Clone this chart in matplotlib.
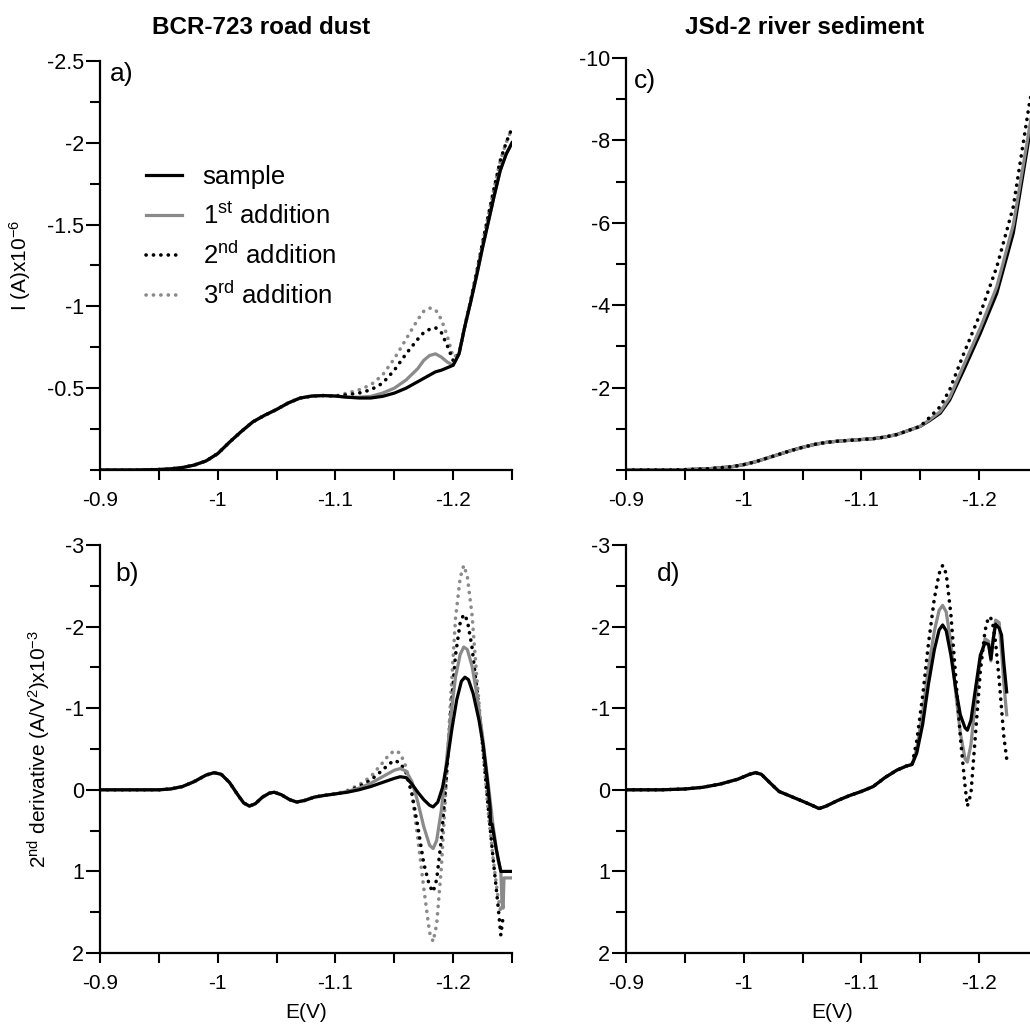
import matplotlib
matplotlib.use("Agg")
import matplotlib.pyplot as plt
from matplotlib.ticker import MultipleLocator

plt.rcParams['font.family'] = ['Liberation Sans', 'DejaVu Sans']
plt.rcParams['mathtext.default'] = 'regular'
plt.rcParams['axes.unicode_minus'] = False

# ---------------- Panel a: BCR-723 current (x10^-6 A) ----------------
E_a_common = [-0.900, -0.930, -0.950, -0.960, -0.970, -0.980, -0.990, -1.000, -1.010, -1.020,
              -1.030, -1.040, -1.050, -1.060, -1.070, -1.080, -1.090, -1.100]
I_a_common = [0.0, 0.0, -0.003, -0.007, -0.015, -0.03, -0.055, -0.10, -0.17, -0.235,
              -0.295, -0.335, -0.37, -0.41, -0.44, -0.452, -0.455, -0.452]

E_a_tail = [-1.110, -1.120, -1.130, -1.140, -1.150, -1.160, -1.170, -1.175, -1.180, -1.185,
            -1.190, -1.195, -1.200, -1.205, -1.210, -1.215, -1.220, -1.225, -1.230, -1.235,
            -1.240, -1.245, -1.250]
I_a_sample = [-0.445, -0.44, -0.44, -0.45, -0.47, -0.50, -0.54, -0.56, -0.58, -0.60,
              -0.61, -0.625, -0.64, -0.71, -0.88, -1.03, -1.19, -1.36, -1.52, -1.68,
              -1.83, -1.93, -2.00]
I_a_add1 = [-0.445, -0.445, -0.45, -0.47, -0.50, -0.55, -0.62, -0.67, -0.70, -0.71,
            -0.69, -0.66, -0.64, -0.71, -0.88, -1.03, -1.19, -1.36, -1.52, -1.68,
            -1.83, -1.93, -2.00]
I_a_add2 = [-0.46, -0.47, -0.49, -0.53, -0.61, -0.71, -0.80, -0.84, -0.86, -0.87,
            -0.84, -0.76, -0.67, -0.71, -0.88, -1.04, -1.21, -1.39, -1.56, -1.73,
            -1.89, -2.00, -2.09]
I_a_add3 = [-0.47, -0.49, -0.52, -0.58, -0.68, -0.80, -0.92, -0.97, -0.99, -0.98,
            -0.92, -0.82, -0.69, -0.71, -0.88, -1.04, -1.21, -1.39, -1.56, -1.73,
            -1.89, -2.00, -2.09]

# ---------------- Panel b: BCR-723 2nd derivative (x10^-3) ----------------
E_b_common = [-0.900, -0.930, -0.950, -0.960, -0.970, -0.980, -0.990, -0.997, -1.003, -1.010,
              -1.017, -1.022, -1.027, -1.032, -1.038, -1.044, -1.048, -1.054, -1.061, -1.067,
              -1.074, -1.082, -1.090, -1.100]
D_b_common = [0.0, 0.0, 0.0, -0.01, -0.04, -0.10, -0.18, -0.21, -0.19, -0.09,
              0.06, 0.16, 0.20, 0.17, 0.09, 0.04, 0.03, 0.06, 0.12, 0.15,
              0.13, 0.09, 0.07, 0.05]

E_b_sample = [-1.110, -1.120, -1.130, -1.140, -1.150, -1.155, -1.160, -1.165, -1.170, -1.175,
              -1.180, -1.183, -1.187, -1.191, -1.195, -1.199, -1.203, -1.207, -1.210, -1.213,
              -1.217, -1.222, -1.2255, -1.229, -1.2314, -1.2318, -1.233, -1.2365, -1.2405, -1.250]
D_b_sample = [0.03, 0.0, -0.04, -0.09, -0.14, -0.16, -0.15, -0.07, 0.03, 0.12,
              0.19, 0.21, 0.15, -0.03, -0.35, -0.75, -1.10, -1.33, -1.38, -1.35,
              -1.18, -0.85, -0.55, -0.12, 0.22, 0.42, 0.42, 0.72, 1.0, 1.0]

E_b_add1 = [-1.110, -1.120, -1.130, -1.140, -1.150, -1.155, -1.160, -1.165, -1.170, -1.175,
            -1.180, -1.183, -1.186, -1.190, -1.194, -1.198, -1.202, -1.206, -1.209, -1.212,
            -1.216, -1.220, -1.225, -1.230, -1.234, -1.238, -1.2405, -1.2415, -1.2425, -1.2432,
            -1.250]
D_b_add1 = [0.02, -0.02, -0.08, -0.16, -0.24, -0.26, -0.23, -0.10, 0.15, 0.45,
            0.68, 0.72, 0.62, 0.25, -0.30, -0.90, -1.38, -1.66, -1.75, -1.72,
            -1.52, -1.18, -0.65, -0.05, 0.45, 0.85, 1.0, 1.38, 1.45, 1.08,
            1.08]

E_b_dots = [-1.110, -1.120, -1.130, -1.140, -1.145, -1.150, -1.155, -1.160, -1.165, -1.170,
            -1.175, -1.180, -1.183, -1.186, -1.190, -1.194, -1.198, -1.202, -1.206, -1.209,
            -1.212, -1.216, -1.220, -1.225, -1.230, -1.234, -1.238, -1.2405, -1.2425]
D_b_add2 = [0.02, -0.04, -0.12, -0.24, -0.31, -0.36, -0.33, -0.21, 0.05, 0.45,
            0.90, 1.18, 1.25, 1.10, 0.60, -0.10, -0.95, -1.65, -2.05, -2.15,
            -2.08, -1.75, -1.25, -0.55, 0.25, 0.85, 1.40, 1.78, 1.55]
D_b_add3 = [0.01, -0.06, -0.16, -0.33, -0.42, -0.48, -0.45, -0.28, 0.05, 0.60,
            1.20, 1.75, 1.86, 1.65, 0.95, -0.05, -1.15, -2.10, -2.60, -2.75,
            -2.62, -2.15, -1.40, -0.55, 0.30, 0.85, 1.30, 1.50, 1.25]

# ---------------- Panel c: JSd-2 current (x10^-6 A) ----------------
E_c_common = [-0.900, -0.940, -0.970, -0.990, -1.000, -1.010, -1.020, -1.030, -1.040, -1.050,
              -1.060, -1.070, -1.080, -1.090, -1.100, -1.110, -1.120, -1.130, -1.140, -1.150]
I_c_common = [0.0, 0.0, -0.03, -0.08, -0.13, -0.20, -0.29, -0.38, -0.47, -0.55,
              -0.62, -0.67, -0.70, -0.72, -0.74, -0.76, -0.80, -0.86, -0.96, -1.06]
E_c_tail = [-1.158, -1.167, -1.175, -1.187, -1.201, -1.215, -1.229, -1.243, -1.250]
I_c_sample = [-1.20, -1.38, -1.70, -2.43, -3.32, -4.29, -5.75, -8.17, -9.30]
I_c_add1 = [-1.22, -1.42, -1.76, -2.55, -3.45, -4.45, -5.95, -8.35, -9.45]
I_c_add2 = [-1.28, -1.54, -1.95, -2.83, -3.80, -4.93, -6.39, -8.95, -9.90]

# ---------------- Panel d: JSd-2 2nd derivative (x10^-3) ----------------
E_d_common = [-0.900, -0.930, -0.950, -0.965, -0.980, -0.995, -1.005, -1.010, -1.015, -1.022,
              -1.030, -1.040, -1.050, -1.058, -1.064, -1.070, -1.080, -1.090, -1.100, -1.110,
              -1.120, -1.130, -1.138, -1.143]
D_d_common = [0.0, 0.0, -0.01, -0.03, -0.07, -0.13, -0.19, -0.21, -0.19, -0.09,
              0.02, 0.08, 0.14, 0.19, 0.23, 0.20, 0.13, 0.07, 0.02, -0.04,
              -0.15, -0.24, -0.29, -0.31]
E_d_tail = [-1.147, -1.152, -1.157, -1.162, -1.166, -1.169, -1.172, -1.176, -1.180, -1.184,
            -1.188, -1.190, -1.193, -1.197, -1.201, -1.205, -1.208, -1.210, -1.212, -1.214,
            -1.217, -1.219, -1.221, -1.2234]
D_d_sample = [-0.45, -0.80, -1.30, -1.72, -1.96, -2.02, -1.95, -1.65, -1.25, -0.92,
              -0.76, -0.73, -0.85, -1.25, -1.65, -1.80, -1.78, -1.60, -1.85, -2.03,
              -1.98, -1.90, -1.55, -1.20]
D_d_add1 = [-0.50, -0.95, -1.50, -1.95, -2.20, -2.26, -2.18, -1.80, -1.20, -0.70,
            -0.38, -0.34, -0.55, -1.10, -1.60, -1.85, -1.82, -1.58, -1.85, -2.08,
            -2.05, -1.70, -1.30, -0.92]
D_d_add2 = [-0.60, -1.15, -1.80, -2.35, -2.65, -2.75, -2.65, -2.15, -1.40, -0.65,
            -0.05, 0.20, 0.05, -0.70, -1.45, -1.95, -2.12, -2.10, -2.00, -1.80,
            -1.35, -1.00, -0.65, -0.38]

legend_labels = ["sample", "1$^{st}$ addition", "2$^{nd}$ addition", "3$^{rd}$ addition"]
x_ticks = [-0.9, -1.0, -1.1, -1.2]
x_ticklabels = ["-0.9", "-1", "-1.1", "-1.2"]
ya_ticks = [-2.5, -2.0, -1.5, -1.0, -0.5]
ya_ticklabels = ["-2.5", "-2", "-1.5", "-1", "-0.5"]
yc_ticks = [-10, -8, -6, -4, -2]
yc_ticklabels = ["-10", "-8", "-6", "-4", "-2"]
yd_ticks = [-3, -2, -1, 0, 1, 2]
yd_ticklabels = ["-3", "-2", "-1", "0", "1", "2"]

BLACK = '#000000'
GRAY = '#8a8a8a'
LW = 2.3
DOT_LW = 2.6
DOT = (0, (0.05, 2.0))

W, H = 1030, 1028
fig = plt.figure(figsize=(W / 100, H / 100), dpi=100)


def add_axes(left, top, right, bottom):
    return fig.add_axes([left / W, 1 - bottom / H, (right - left) / W, (bottom - top) / H])


ax_a = add_axes(100, 61, 512, 470)
ax_b = add_axes(100, 545, 512, 953)
ax_c = add_axes(626, 58, 1038, 470)
ax_d = add_axes(626, 545, 1038, 953)


def style(ax, ylim, yticks, yticklabels, yminor):
    ax.set_xlim(-0.9, -1.25)
    ax.set_ylim(*ylim)
    for s in ['top', 'right']:
        ax.spines[s].set_visible(False)
    for s in ['left', 'bottom']:
        ax.spines[s].set_linewidth(1.6)
    ax.set_xticks(x_ticks)
    ax.set_xticklabels(x_ticklabels)
    ax.xaxis.set_minor_locator(MultipleLocator(0.05))
    ax.set_yticks(yticks)
    ax.set_yticklabels(yticklabels)
    ax.yaxis.set_minor_locator(MultipleLocator(yminor))
    ax.tick_params(axis='x', which='both', direction='out', length=7, width=1.5,
                   labelsize=15, pad=8)
    ax.tick_params(axis='y', which='major', direction='out', length=10, width=1.5,
                   labelsize=15.5, pad=1.5)
    ax.tick_params(axis='y', which='minor', direction='out', length=7, width=1.5)


def dotted(ax, x, y, color):
    return ax.plot(x, y, color=color, lw=DOT_LW, linestyle=DOT,
                   dash_capstyle='round', solid_capstyle='round')[0]


style(ax_a, (0, -2.5), ya_ticks, ya_ticklabels, 0.25)
style(ax_b, (2, -3), yd_ticks, yd_ticklabels, 0.5)
style(ax_c, (0, -10), yc_ticks, yc_ticklabels, 1)
style(ax_d, (2, -3), yd_ticks, yd_ticklabels, 0.5)

# panel a
l3 = dotted(ax_a, E_a_common + E_a_tail, I_a_common + I_a_add3, GRAY)
l2 = dotted(ax_a, E_a_common + E_a_tail, I_a_common + I_a_add2, BLACK)
l1, = ax_a.plot(E_a_common + E_a_tail, I_a_common + I_a_add1, color=GRAY, lw=LW)
l0, = ax_a.plot(E_a_common + E_a_tail, I_a_common + I_a_sample, color=BLACK, lw=LW)
leg = ax_a.legend([l0, l1, l2, l3], legend_labels, loc='upper left',
                  bbox_to_anchor=(0.112, 0.745), frameon=False, fontsize=18.5,
                  handlelength=1.4, handletextpad=0.8, labelspacing=0.52,
                  borderpad=0, borderaxespad=0)

# panel b
dotted(ax_b, E_b_common + E_b_dots, D_b_common + D_b_add3, GRAY)
dotted(ax_b, E_b_common + E_b_dots, D_b_common + D_b_add2, BLACK)
ax_b.plot(E_b_common + E_b_add1, D_b_common + D_b_add1, color=GRAY, lw=LW)
ax_b.plot(E_b_common + E_b_sample, D_b_common + D_b_sample, color=BLACK, lw=LW)

# panel c
ax_c.plot(E_c_common + E_c_tail, I_c_common + I_c_sample, color=BLACK, lw=LW)
ax_c.plot(E_c_common + E_c_tail, I_c_common + I_c_add1, color=GRAY, lw=LW)
dotted(ax_c, E_c_common + E_c_tail, I_c_common + I_c_add2, BLACK)

# panel d
ax_d.plot(E_d_common + E_d_tail, D_d_common + D_d_add1, color=GRAY, lw=LW)
ax_d.plot(E_d_common + E_d_tail, D_d_common + D_d_sample, color=BLACK, lw=LW)
dotted(ax_d, E_d_common + E_d_tail, D_d_common + D_d_add2, BLACK)

# panel letters
ax_a.text(0.024, 0.998, "a)", transform=ax_a.transAxes, fontsize=19, va='top', ha='left')
ax_b.text(0.036, 0.958, "b)", transform=ax_b.transAxes, fontsize=19, va='top', ha='left')
ax_c.text(0.020, 0.973, "c)", transform=ax_c.transAxes, fontsize=19, va='top', ha='left')
ax_d.text(0.075, 0.958, "d)", transform=ax_d.transAxes, fontsize=19, va='top', ha='left')

# axis labels
ax_a.set_ylabel("I (A)x10$^{-6}$", fontsize=15)
ax_a.yaxis.set_label_coords(-0.163, 0.5)
ax_b.set_ylabel("2$^{nd}$ derivative (A/V$^{2}$)x10$^{-3}$", fontsize=15)
ax_b.yaxis.set_label_coords(-0.114, 0.5)
ax_b.set_xlabel("E(V)", fontsize=15, labelpad=7)
ax_d.set_xlabel("E(V)", fontsize=15, labelpad=7)

# column titles
fig.text(261 / W, 1 - 28 / H, "BCR-723 road dust", fontsize=17.5, fontweight='bold',
         ha='center', va='center')
fig.text(805 / W, 1 - 28 / H, "JSd-2 river sediment", fontsize=17.5, fontweight='bold',
         ha='center', va='center')

fig.savefig("out.png", dpi=100)
